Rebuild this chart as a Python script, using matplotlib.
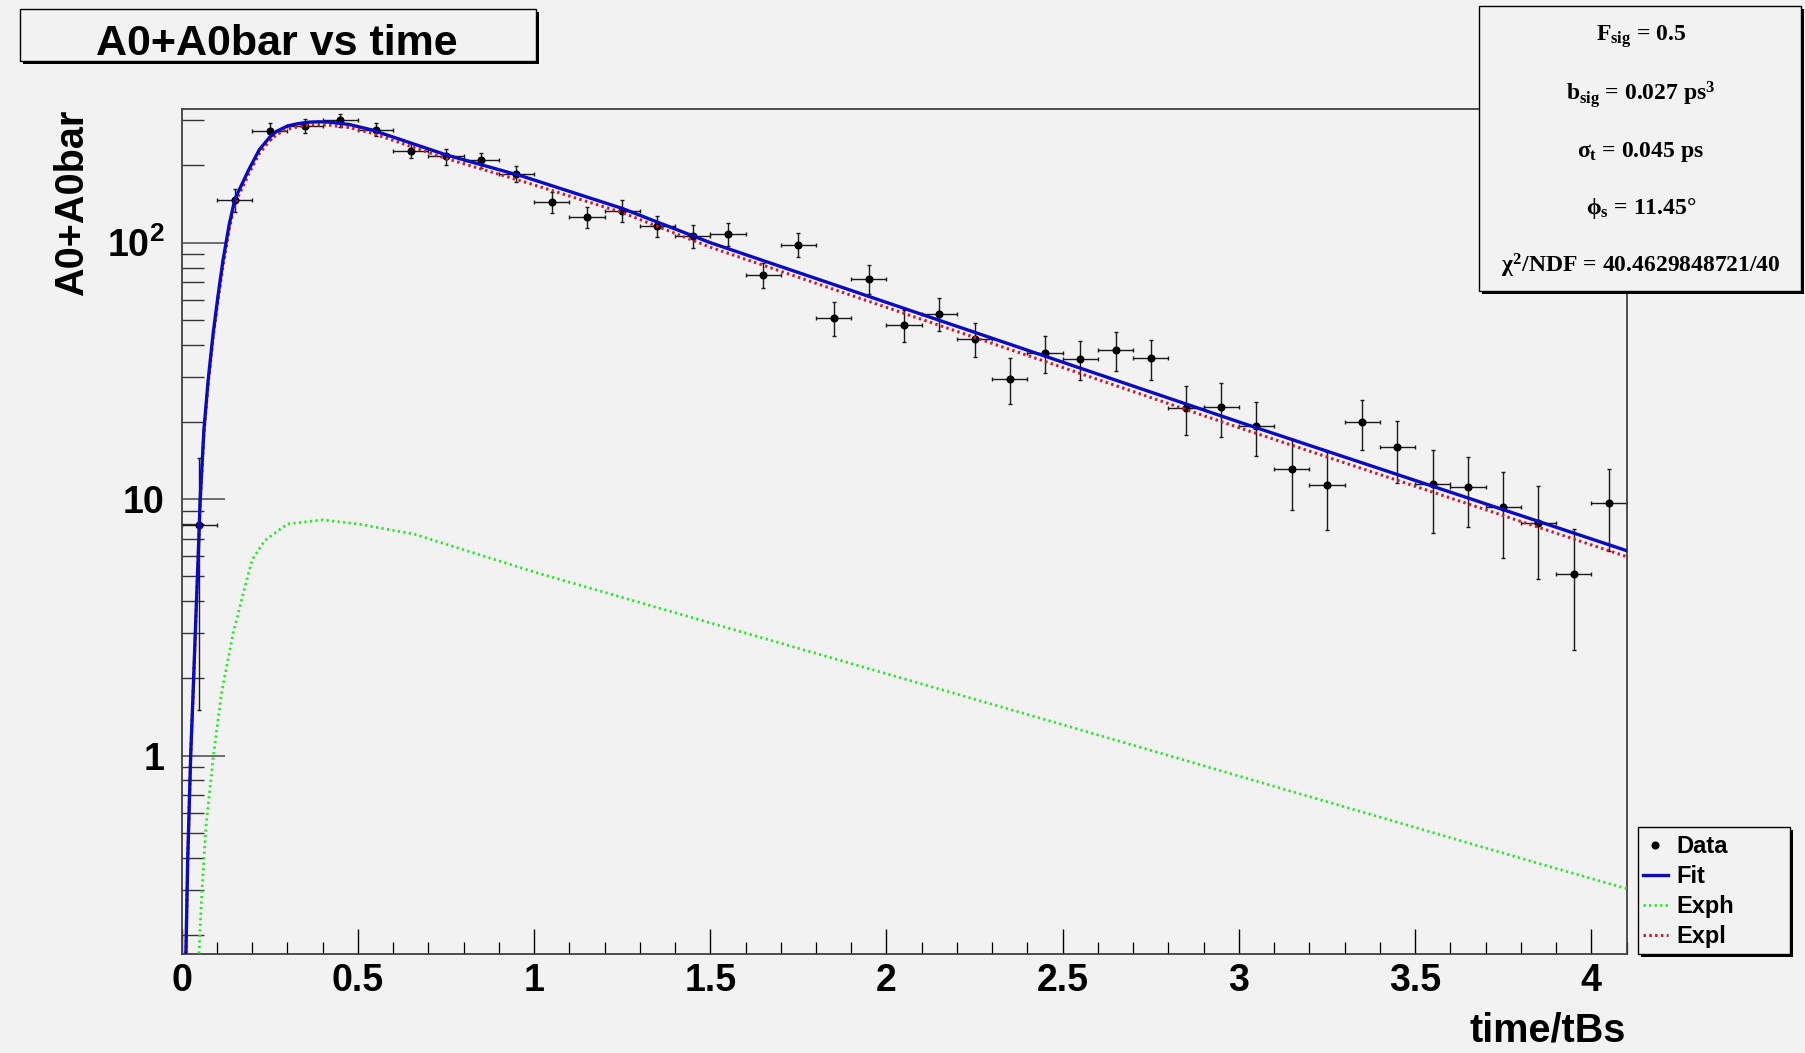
import matplotlib
matplotlib.use('Agg')
import matplotlib.pyplot as plt
from matplotlib.lines import Line2D
from matplotlib.patches import Rectangle
from matplotlib.ticker import MultipleLocator, LogLocator, NullFormatter

# histogram: bin centres (time/tBs), contents and errors
time_centers = [0.05, 0.15, 0.25, 0.35, 0.45, 0.55, 0.65, 0.75, 0.85, 0.95,
                1.05, 1.15, 1.25, 1.35, 1.45, 1.55, 1.65, 1.75, 1.85, 1.95,
                2.05, 2.15, 2.25, 2.35, 2.45, 2.55, 2.65, 2.75, 2.85, 2.95,
                3.05, 3.15, 3.25, 3.35, 3.45, 3.55, 3.65, 3.75, 3.85, 3.95,
                4.05]
counts = [7.96, 146.5, 272.8, 286.1, 300.2, 276.1, 228.7, 216.8, 209.1, 185.6,
          143.9, 125.9, 133.2, 115.8, 106.2, 107.8, 75.0, 98.2, 50.9, 72.4,
          47.9, 52.9, 42.1, 29.5, 37.2, 35.3, 38.1, 35.5, 22.7, 22.9,
          19.3, 13.1, 11.4, 19.9, 15.9, 11.5, 11.2, 9.35, 8.07, 5.12,
          9.66]
count_errors = [6.45, 15.3, 19.0, 18.5, 18.3, 16.0, 15.0, 16.0, 14.3, 13.0,
                13.0, 12.0, 13.0, 11.0, 11.0, 11.0, 8.6, 10.6, 7.7, 9.3,
                6.8, 7.8, 6.4, 6.1, 6.1, 6.2, 6.6, 6.4, 4.9, 5.4,
                4.6, 4.0, 3.8, 4.4, 4.3, 4.1, 3.4, 3.45, 3.2, 2.55,
                3.4]
bin_halfwidth = 0.05

# fitted curves
fit_t = [0.012, 0.017, 0.0255, 0.033, 0.040, 0.046, 0.050, 0.0525, 0.063,
         0.075, 0.089, 0.103, 0.117, 0.135, 0.151, 0.19, 0.22, 0.25, 0.27,
         0.30, 0.33, 0.36, 0.39, 0.42, 0.475, 0.54, 0.75, 0.97, 1.25, 1.50,
         3.0, 4.1]
fit_y = [0.169, 0.39, 1.0, 1.86, 3.4, 5.6, 8.0, 10.0, 18.6,
         29, 44, 62, 85, 118, 148, 192, 230, 258, 272,
         285, 291, 295, 296, 295, 289, 275, 220, 181, 136, 100,
         20.0, 6.3]
expl_y = [0.169, 0.39, 1.0, 1.84, 3.35, 5.5, 7.8, 9.7, 18.0,
          28, 42.5, 59.5, 81, 113, 142, 185, 222, 250, 264,
          277, 283, 287, 288, 287, 281, 267, 213, 173, 131, 96,
          19.0, 5.97]
exph_t = [0.049, 0.057, 0.069, 0.09, 0.113, 0.146, 0.175, 0.20, 0.236,
          0.30, 0.40, 0.50, 0.66, 1.0, 2.5, 3.85, 4.1]
exph_y = [0.169, 0.29, 0.53, 1.0, 1.75, 3.0, 4.3, 5.8, 6.9,
          8.0, 8.3, 8.0, 7.3, 5.2, 1.32, 0.38, 0.303]

x_ticks = [0, 0.5, 1, 1.5, 2, 2.5, 3, 3.5, 4]
x_tick_labels = ['0', '0.5', '1', '1.5', '2', '2.5', '3', '3.5', '4']
y_ticks = [1, 10, 100]
y_tick_labels = ['1', '10', r'$\mathsf{10^{2}}$']

stats_lines = [r'$F_{sig}$ = 0.5',
               r'$b_{sig}$ = 0.027 ps$^{3}$',
               r'$\sigma_{t}$ = 0.045 ps',
               r'$\phi_{s}$ = 11.45°',
               r'$\chi^{2}$/NDF = 40.4629848721/40']

W, H = 1805, 1053
BG = '#f2f2f2'
SANS = ['Liberation Sans', 'DejaVu Sans']
SERIF = ['Liberation Serif', 'DejaVu Serif']

plt.rcParams['font.family'] = SANS
plt.rcParams['font.weight'] = 'bold'
plt.rcParams['mathtext.fontset'] = 'custom'
plt.rcParams['mathtext.rm'] = 'Liberation Serif:bold'
plt.rcParams['mathtext.it'] = 'Liberation Serif:bold'
plt.rcParams['mathtext.bf'] = 'Liberation Serif:bold'
plt.rcParams['mathtext.sf'] = 'Liberation Sans:bold'


def fx(px):
    return px / W


def fy(py):
    return 1 - py / H


def shadow_box(fig, x0, y0, x1, y1, sh=3):
    fig.add_artist(Rectangle((fx(x0 + sh), fy(y1 + sh)), fx(x1 - x0), (y1 - y0) / H,
                             transform=fig.transFigure, facecolor='black',
                             edgecolor='black', lw=0, zorder=1))
    fig.add_artist(Rectangle((fx(x0), fy(y1)), fx(x1 - x0), (y1 - y0) / H,
                             transform=fig.transFigure, facecolor=BG,
                             edgecolor='black', lw=1.0, zorder=1.1))


fig = plt.figure(figsize=(W / 100, H / 100), dpi=100, facecolor=BG)
ax = fig.add_axes([fx(181.7), fy(954.3), (1626.5 - 181.7) / W, (954.3 - 109) / H])
ax.set_facecolor(BG)

ax.errorbar(time_centers, counts, xerr=bin_halfwidth, yerr=count_errors,
            fmt='o', ms=4.8, color='black', ecolor='#1a1a1a',
            elinewidth=1.0, capsize=1.6, capthick=1.0, zorder=2)
fit_line, = ax.plot(fit_t, fit_y, color='#0a0ac0', lw=2.4, zorder=4)
exph_line, = ax.plot(exph_t, exph_y, color='#2ee62e', lw=2.0,
                     ls=(0, (0.8, 1.2)), zorder=3)
expl_line, = ax.plot(fit_t, expl_y, color='#d01a2a', lw=2.2,
                     ls=(0, (0.8, 1.1)), zorder=3)

ax.set_yscale('log')
ax.set_xlim(0, 4.1)
ax.set_ylim(0.168, 332)
ax.set_xticks(x_ticks, labels=x_tick_labels)
ax.xaxis.set_minor_locator(MultipleLocator(0.1))
ax.set_yticks(y_ticks, labels=y_tick_labels)
ax.yaxis.set_minor_locator(LogLocator(base=10, subs=(2, 3, 4, 5, 6, 7, 8, 9), numticks=20))
ax.yaxis.set_minor_formatter(NullFormatter())

for s in ax.spines.values():
    s.set_color('#404040')
    s.set_linewidth(1.3)
ax.tick_params(axis='both', which='both', direction='in', top=False, right=False)
ax.tick_params(axis='y', which='major', length=31, width=1.2, color='#555555',
               pad=12.5, labelsize=27)
ax.tick_params(axis='y', which='minor', length=15.6, width=1.0, color='#333333')
ax.tick_params(axis='x', which='major', length=18, width=1.0, pad=6.5, labelsize=27)
ax.tick_params(axis='x', which='minor', length=9, width=0.9)

fig.text(fx(72), fy(109.5), 'A0+A0bar', rotation=90, ha='center', va='top', fontsize=28.5)
fig.text(fx(1626), fy(1041.7), 'time/tBs', ha='right', va='baseline', fontsize=28.5)

# title box
shadow_box(fig, 19.6, 9, 535.5, 61)
fig.text(fx(277), fy(55), 'A0+A0bar vs time', ha='center', va='baseline',
         fontsize=31, zorder=5)

# parameter box
shadow_box(fig, 1479.3, 6, 1801, 291)
for line, yb in zip(stats_lines, [40.5, 100, 157, 214, 273]):
    fig.text(fx(1641), fy(yb), line, ha='center', va='baseline', fontsize=17,
             family=SERIF, weight='bold', zorder=5)

# legend
shadow_box(fig, 1638.3, 827.3, 1790, 954)
data_handle = Line2D([], [], marker='o', ms=4.8, color='black', ls='none')
leg = fig.legend([data_handle, fit_line, exph_line, expl_line],
                 ['Data', 'Fit', 'Exph', 'Expl'],
                 loc='upper left', bbox_to_anchor=(fx(1643), fy(835)),
                 frameon=False, fontsize=17, handlelength=1.05,
                 handletextpad=0.35, labelspacing=0.3, borderpad=0,
                 borderaxespad=0)
leg.set_zorder(5)

fig.savefig('out.png', dpi=100, facecolor=BG)
